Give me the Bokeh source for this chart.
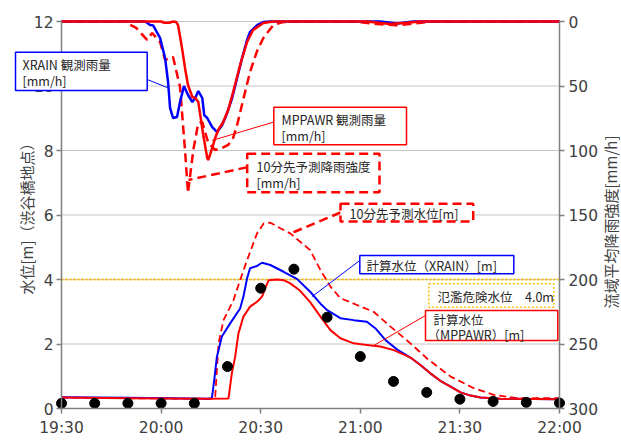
from math import pi
from bokeh.plotting import figure
from bokeh.models import Range1d, LinearAxis, FixedTicker, Label, BoxAnnotation
from bokeh.embed import file_html
from bokeh.resources import INLINE

# ---------------- data ----------------
TICK_MINUTES = [0, 30, 60, 90, 120, 150]
TICK_LABELS = ["19:30", "20:00", "20:30", "21:00", "21:30", "22:00"]
LEVEL_TICKS = [0, 2, 4, 6, 8, 10, 12]
RAIN_TICKS = [0, 50, 100, 150, 200, 250, 300]
FLOOD_LEVEL = 4.0

# observed water level (every 10 min)
obs_t = [0, 10, 20, 30, 40, 50, 60, 70, 80, 90, 100, 110, 120, 130, 140, 150]
obs_h = [0.16, 0.16, 0.16, 0.16, 0.16, 1.30, 3.73, 4.32, 2.83, 1.61, 0.84, 0.50, 0.29, 0.22, 0.19, 0.17]

# computed water level (XRAIN)
xr_t = [0, 20, 44, 45.3, 46.0, 46.8, 48.3, 50.8, 53.8, 54.8, 55.9, 56.8, 58.9, 60.4, 62.9, 66.9, 70.9, 74.9,
        78.0, 80.0, 84.0, 88.0, 92.0, 94.5, 97.6, 101.1, 105.1, 108.1, 111.1, 114.1, 117.2, 120.2, 123.2,
        126.2, 132.2, 150]
xr_h = [0.35, 0.33, 0.30, 0.32, 0.88, 1.60, 2.23, 2.64, 3.10, 3.47, 4.04, 4.35, 4.42, 4.52, 4.45, 4.24, 4.02, 3.62,
        3.25, 3.05, 2.80, 2.74, 2.69, 2.49, 2.12, 1.83, 1.58, 1.35, 1.09, 0.86, 0.68, 0.50, 0.40,
        0.34, 0.30, 0.29]

# computed water level (MPPAWR)
mp_t = [0, 20, 44, 50.3, 51.3, 52.3, 53.3, 54.8, 56.8, 58.9, 60.4, 61.4, 62.4, 64.9, 66.9, 68.9, 71.9, 74.9,
        78.0, 81.0, 84.0, 88.0, 92.0, 96.0, 100.1, 105.1, 108.1, 111.1, 114.1, 117.2, 120.2, 123.2, 126.2,
        132.2, 150]
mp_h = [0.34, 0.32, 0.30, 0.31, 1.09, 1.60, 2.33, 2.85, 3.16, 3.31, 3.47, 3.73, 3.98, 4.00, 3.98, 3.88, 3.65, 3.30,
        2.85, 2.43, 2.18, 2.02, 1.97, 1.92, 1.81, 1.58, 1.35, 1.09, 0.86, 0.68, 0.50, 0.40, 0.34,
        0.30, 0.29]

# 10-min-ahead forecast water level
fc_t = [0, 20, 45, 46.3, 47.3, 48.8, 51.8, 53.8, 55.9, 58.9, 60.9, 62.9, 65.9, 68.9, 71.9, 74.9, 78.0, 81.0,
        84.0, 89.0, 94.0, 99.1, 105.1, 110.1, 117.2, 124.2, 130.2, 137.3, 150]
fc_h = [0.34, 0.32, 0.30, 0.37, 2.02, 2.74, 3.36, 3.98, 4.60, 5.43, 5.74, 5.76, 5.59, 5.43, 5.17, 4.91, 4.29, 3.78,
        3.42, 3.21, 3.00, 2.54, 2.02, 1.55, 0.99, 0.63, 0.42, 0.32, 0.32]

# basin-average rainfall, XRAIN observed [mm/h]
xr_rain_t = [0, 25.2, 26.7, 27.6, 29.7, 31.2, 32.1, 32.7, 33.6, 34.8, 35.7, 36.9, 38.1, 39.4, 40.3, 41.2, 42.4,
             43.0, 43.9, 45.4, 46.9, 48.4, 49.9, 51.4, 52.9, 54.4, 55.9, 56.8, 59.0, 60.8, 62.9, 96, 101, 106, 150]
xr_rain = [0, 0, 2.7, 3.0, 12.8, 28.3, 46.9, 67.0, 74.8, 74.0, 62.4, 50.0, 57.0, 62.4, 59.3, 53.9, 59.3,
           72.5, 74.8, 81.8, 85.7, 80.2, 70.9, 59.3, 43.8, 28.3, 14.3, 8.1, 2.7, 0.4, 0, 0, 1.5, 0, 0]

# basin-average rainfall, MPPAWR observed [mm/h]
mp_rain_t = [0, 30, 31, 32.5, 33.6, 34.5, 35.1, 36.3, 37.2, 38.1, 39.4, 40.3, 41.2, 41.8, 42.7, 43.9, 44.2,
             45.4, 46.3, 47.2, 48.7, 50.2, 51.7, 53.8, 55.9, 57.7, 60.8, 63.8, 92, 99, 104, 108, 150]
mp_rain = [0, 0, 1, 1, 0, 0.4, 2.7, 20.5, 36.0, 49.2, 58.5, 59.3, 62.4, 72.5, 88.0, 105.8, 107.4,
           98.0, 90.3, 84.1, 77.9, 68.6, 54.7, 33.7, 15.9, 6.6, 1.2, 0, 0, 2, 1, 0, 0]

# 10-min-ahead forecast rainfall intensity [mm/h]
fc_rain_t = [0, 19.5, 20.7, 22.5, 25.8, 27.3, 29.7, 31.2, 33.6, 35.7, 37.2, 38.1, 39.7, 41.2, 42.4, 44.2,
             46.3, 48.4, 50.2, 51.7, 52.9, 54.7, 56.8, 58.9, 60.8, 63.8, 66.8, 69.8, 88, 95, 101, 106, 112, 150]
fc_rain = [0, 0, 2.7, 5.0, 14.3, 8.9, 15.9, 29.8, 27.5, 50.8, 99.6, 133.0, 99.6, 78.7, 77.9, 94.2,
           99.6, 98.0, 95.7, 90.3, 80.2, 60.9, 39.1, 22.9, 12.8, 2.7, 0.4, 0, 0, 2, 3, 1.5, 0, 0]

# ---------------- layout ----------------
# The frame fills the whole canvas; the axes sit at fixed locations inside it so that
# note boxes may overlap them (as in the original).
W, H = 621, 441
AX_L, AX_R, AX_T, AX_B = 61, 559, 21, 408          # canvas px of the plot-area edges
T0, T1 = 0, 150
L0, L1 = 0, 12
R0, R1 = 0, 300
XPP = (T1 - T0) / (AX_R - AX_L)
LPP = (L1 - L0) / (AX_B - AX_T)
RPP = (R1 - R0) / (AX_B - AX_T)


def dx(px):
    return T0 + (px - AX_L) * XPP


def dy(py):
    return L0 + (AX_B - py) * LPP


JP = "Noto Sans CJK JP"
NUM = "DejaVu Sans"
BLUE = "#0000ff"
RED = "#ff0000"
ORANGE = "#ffc000"
AXC = "#808080"
TXT = "#404040"
NOTE = "#262626"
GRID = "#c4c4c4"

p = figure(width=W, height=H, output_backend="svg", toolbar_location=None,
           x_range=Range1d(dx(0), dx(W)), y_range=Range1d(dy(H), dy(0)),
           min_border_left=0, min_border_right=0, min_border_top=0, min_border_bottom=0)
p.extra_y_ranges = {"rain": Range1d(R1 + (H - AX_B) * RPP, R0 - AX_T * RPP)}
p.outline_line_color = None
p.background_fill_color = "white"
p.border_fill_color = "white"
p.xgrid.grid_line_color = None
p.ygrid.grid_line_color = None

xa = p.xaxis[0]
la = p.yaxis[0]
xa.ticker = FixedTicker(ticks=TICK_MINUTES)
xa.major_label_overrides = {t: l for t, l in zip(TICK_MINUTES, TICK_LABELS)}
xa.bounds = (T0, T1)
xa.fixed_location = L0
la.ticker = FixedTicker(ticks=LEVEL_TICKS)
la.bounds = (L0, L1)
la.fixed_location = T0
ra = LinearAxis(y_range_name="rain", ticker=FixedTicker(ticks=RAIN_TICKS), bounds=(R0, R1),
                fixed_location=T1)
p.add_layout(ra, "right")

for ax in [xa, la, ra]:
    ax.axis_line_color = AXC
    ax.axis_line_width = 1.5
    ax.major_tick_line_color = AXC
    ax.major_tick_line_width = 1.5
    ax.major_tick_out = 5
    ax.major_tick_in = 0
    ax.minor_tick_out = 0
    ax.minor_tick_in = 0
    ax.major_label_text_font = NUM
    ax.major_label_text_font_size = "15.5px"
    ax.major_label_text_color = TXT
    ax.axis_label_text_font = JP
    ax.axis_label_text_font_size = "15px"
    ax.axis_label_text_font_style = "normal"
    ax.axis_label_text_color = TXT
xa.major_label_standoff = 5
la.major_label_standoff = 3
ra.major_label_standoff = 4

la.axis_label = "水位[m]（渋谷橋地点）"
try:
    la.axis_label_standoff = -6
except ValueError:
    la.axis_label_standoff = 0

# horizontal grid lines between the two axes
grid_y = LEVEL_TICKS[1:]
p.segment(x0=[T0] * len(grid_y), x1=[T1] * len(grid_y), y0=grid_y, y1=grid_y,
          line_color=GRID, line_width=1)

# flood danger level
p.segment(x0=[T0], x1=[T1], y0=[FLOOD_LEVEL], y1=[FLOOD_LEVEL],
          line_color=ORANGE, line_width=2, line_dash="2 2")

# water levels
p.line(fc_t, fc_h, line_color=RED, line_width=1.8, line_dash="7 4")
p.line(xr_t, xr_h, line_color=BLUE, line_width=2)
p.line(mp_t, mp_h, line_color=RED, line_width=2)
p.scatter(obs_t, obs_h, size=10, fill_color="black", line_color="black")

# rainfall (inverted right axis)
p.line(fc_rain_t, fc_rain, y_range_name="rain", line_color=RED, line_width=2.5, line_dash="9 5")
p.line(xr_rain_t, xr_rain, y_range_name="rain", line_color=BLUE, line_width=2.5)
p.line(mp_rain_t, mp_rain, y_range_name="rain", line_color=RED, line_width=2.5)

# leader lines (canvas pixel coords -> data)
leaders = [
    ((146.7, 79), (168, 87.5), BLUE, 1, "solid"),
    ((273.3, 121.5), (211.5, 140), RED, 1, "solid"),
    ((246.7, 166.7), (188, 179.5), RED, 2.5, "9 5"),
    ((340, 212), (290, 233), RED, 2.5, "9 5"),
    ((359.3, 260), (311.7, 296), BLUE, 1, "solid"),
    ((425, 315), (373.3, 345), RED, 1, "solid"),
]
for (a, b, c, w, d) in leaders:
    p.line([dx(a[0]), dx(b[0])], [dy(a[1]), dy(b[1])], line_color=c, line_width=w, line_dash=d)

# note boxes: (left, top, right, bottom) in canvas px, colour, width, dash
boxes = [
    ((15, 51.7, 146.7, 90), BLUE, 1.5, "solid"),
    ((273.3, 106.7, 406, 144.3), RED, 1.5, "solid"),
    ((246.7, 153.3, 379, 191.7), RED, 2.5, "9 5"),
    ((340, 203.3, 472.7, 221), RED, 2.5, "9 5"),
    ((359.3, 255, 513.3, 273.3), BLUE, 1.5, "solid"),
    ((428.3, 283.3, 553.3, 306.7), ORANGE, 1.5, "2 2"),
    ((425, 310, 557.3, 340), RED, 1.5, "solid"),
]
for (l, t, r, b), c, w, d in boxes:
    p.add_layout(BoxAnnotation(left=dx(l), right=dx(r), top=dy(t), bottom=dy(b),
                               fill_color="white", fill_alpha=1.0, line_color=c, line_alpha=1.0,
                               line_width=w, line_dash=d))

texts = [
    (22, 64, "XRAIN 観測雨量"), (22, 80, "[mm/h]"),
    (281, 118.5, "MPPAWR 観測雨量"), (281, 134.5, "[mm/h]"),
    (256, 165.5, "10分先予測降雨強度"), (256, 181.5, "[mm/h]"),
    (349, 212.5, "10分先予測水位[m]"),
    (366, 264.5, "計算水位（XRAIN）[m]"),
    (437, 295.5, "氾濫危険水位\u30004.0m"),
    (433, 318.5, "計算水位"), (427, 333.5, "（MPPAWR）[m]"),
]
for x, y, s in texts:
    p.add_layout(Label(x=dx(x), y=dy(y), text=s, text_font=JP, text_font_size="12.5px",
                       text_color=NOTE, text_baseline="middle", text_align="left"))

# right axis title (reads bottom-to-top like the left one)
p.add_layout(Label(x=dx(610), y=dy(221.5), text="流域平均降雨強度[mm/h]", angle=pi / 2,
                   text_font=JP, text_font_size="15px", text_color=TXT,
                   text_align="center", text_baseline="middle"))

open("out.html", "w").write(file_html(p, INLINE))
